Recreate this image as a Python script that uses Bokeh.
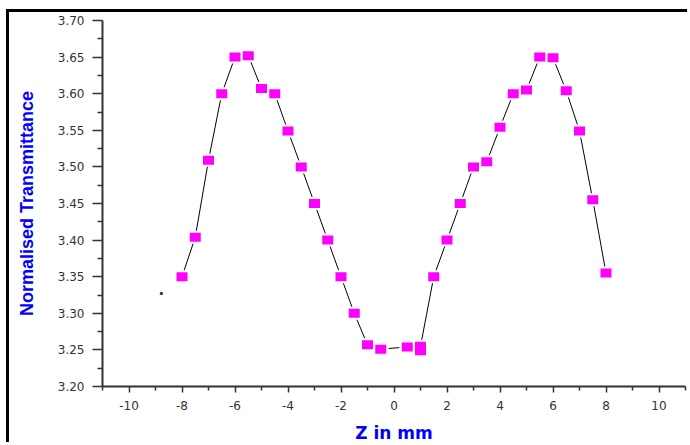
from bokeh.plotting import figure
from bokeh.models import FixedTicker, Range1d
from bokeh.embed import file_html
from bokeh.resources import INLINE

# Z position (mm)
z_mm = [-8.0, -7.5, -7.0, -6.5, -6.0, -5.5, -5.0, -4.5, -4.0, -3.5, -3.0, -2.5,
        -2.0, -1.5, -1.0, -0.5, 0.5, 1.0, 1.0, 1.5, 2.0, 2.5, 3.0, 3.5, 4.0,
        4.5, 5.0, 5.5, 6.0, 6.5, 7.0, 7.5, 8.0]
# Normalised transmittance
transmittance = [3.350, 3.404, 3.509, 3.600, 3.650, 3.652, 3.607, 3.600, 3.549,
                 3.500, 3.450, 3.400, 3.350, 3.300, 3.257, 3.251, 3.254, 3.249,
                 3.255, 3.350, 3.400, 3.450, 3.500, 3.507, 3.554, 3.600, 3.605,
                 3.650, 3.649, 3.604, 3.549, 3.455, 3.355]
# stray dot in the original
stray_z = [-8.78]
stray_t = [3.327]

x_major = [-10, -8, -6, -4, -2, 0, 2, 4, 6, 8, 10]
x_minor = [-11, -9, -7, -5, -3, -1, 1, 3, 5, 7, 9, 11]
x_tick_labels = ["-10", "-8", "-6", "-4", "-2", "0", "2", "4", "6", "8", "10"]
y_major = [3.20, 3.25, 3.30, 3.35, 3.40, 3.45, 3.50, 3.55, 3.60, 3.65, 3.70]
y_minor = [3.225, 3.275, 3.325, 3.375, 3.425, 3.475, 3.525, 3.575, 3.625, 3.675]
y_tick_labels = ["3.20", "3.25", "3.30", "3.35", "3.40", "3.45", "3.50", "3.55",
                 "3.60", "3.65", "3.70"]

p = figure(width=681, height=433, x_range=Range1d(-11, 11), y_range=Range1d(3.2, 3.7),
           output_backend="svg", toolbar_location=None,
           min_border_left=93, min_border_right=5, min_border_top=8, min_border_bottom=58)
p.margin = (9, 0, 0, 6)
p.styles = {"border-top": "3px solid black", "border-left": "3px solid black"}
p.grid.visible = False
p.outline_line_color = None
p.background_fill_color = "white"
p.border_fill_color = "white"

p.xaxis.ticker = FixedTicker(ticks=x_major, minor_ticks=x_minor)
p.yaxis.ticker = FixedTicker(ticks=y_major, minor_ticks=y_minor)
p.xaxis.major_label_overrides = {v: s for v, s in zip(x_major, x_tick_labels)}
p.yaxis.major_label_overrides = {v: s for v, s in zip(y_major, y_tick_labels)}

for ax in (p.xaxis[0], p.yaxis[0]):
    ax.axis_line_color = "#333333"
    ax.axis_line_width = 2
    ax.major_tick_line_color = "#333333"
    ax.major_tick_line_width = 1.5
    ax.minor_tick_line_color = "#333333"
    ax.minor_tick_line_width = 1.5
    ax.major_tick_in = 0
    ax.minor_tick_in = 0
    ax.major_label_text_font = "DejaVu Sans"
    ax.major_label_text_font_size = "12px"
    ax.major_label_text_color = "#333333"
    ax.axis_label_text_color = "#0000FF"
    ax.axis_label_text_font_style = "bold"

p.xaxis.major_tick_out = 6
p.xaxis.minor_tick_out = 4
p.xaxis.major_label_standoff = 8
p.xaxis.axis_label = "Z in mm"
p.xaxis.axis_label_text_font = "DejaVu Sans"
p.xaxis.axis_label_text_font_size = "17px"
p.xaxis.axis_label_standoff = 10

p.yaxis.major_tick_out = 10
p.yaxis.minor_tick_out = 5
p.yaxis.major_label_standoff = 8
p.yaxis.axis_label = "Normalised Transmittance"
p.yaxis.axis_label_text_font = "Liberation Sans"
p.yaxis.axis_label_text_font_size = "18px"
p.yaxis.axis_label_standoff = 18

p.line(z_mm, transmittance, line_color="black", line_width=1)
p.rect(z_mm, transmittance, width=16, height=13, width_units="screen",
       height_units="screen", fill_color="white", line_color=None)
p.rect(z_mm, transmittance, width=11, height=9, width_units="screen",
       height_units="screen", fill_color="#FF00FF", line_color=None)
p.scatter(stray_z, stray_t, size=2, color="#333333", marker="square")

open("out.html", "w").write(file_html(p, INLINE))
